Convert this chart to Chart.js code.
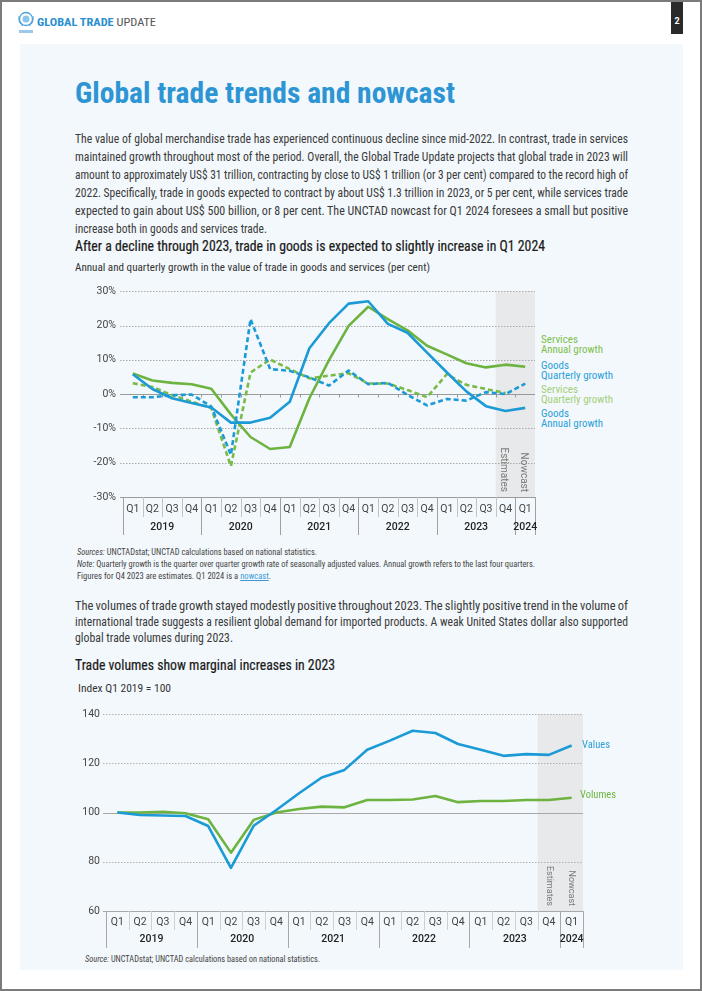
<!DOCTYPE html>
<html><head><meta charset="utf-8">
<script src="https://cdn.jsdelivr.net/npm/chart.js@4.4.1/dist/chart.umd.min.js"></script>
<style>
html,body{margin:0;padding:0;}
body{width:702px;height:991px;position:relative;background:#fff;overflow:hidden;font-family:"Liberation Sans Narrow","Roboto Condensed","Arial Narrow",Roboto,sans-serif;color:#333;}
.frame{position:absolute;left:0;top:0;width:702px;height:991px;box-sizing:border-box;border:2px solid #7b7b7b;z-index:10;pointer-events:none}
.panel{position:absolute;left:20px;top:44px;width:663px;height:926px;background:#f3f8fc;}
.t{position:absolute;white-space:nowrap;transform-origin:0 50%;line-height:1;}
.p{font-size:12.5px;color:#3a3a3a;}
.ct{font-size:14.5px;color:#1a1a1a;-webkit-text-stroke:0.2px #1a1a1a;}
.st{font-size:11px;color:#333;}
.src{font-size:9px;color:#444;}
.lg{font-size:11.5px;}
canvas{position:absolute;}
</style></head>
<body>
<div class="panel"></div>
<svg style="position:absolute;left:17px;top:11px" width="18" height="26" viewBox="0 0 18 26">
 <circle cx="9" cy="8" r="6.5" fill="none" stroke="#4aa3dc" stroke-width="1.3"/>
 <circle cx="9" cy="8" r="3.5" fill="#8cc4ea"/>
 <path d="M2 5 Q1 12 6 15 M16 5 Q17 12 12 15" stroke="#4aa3dc" stroke-width="1" fill="none"/>
 <rect x="2" y="19" width="14" height="3" fill="#9cc9ea"/>
</svg>
<div class="t" style="font-size:10px" data-x="37" data-y="23" data-w="119"><b style="color:#2a8fd0">GLOBAL TRADE</b> <span style="color:#555">UPDATE</span></div>
<div style="position:absolute;left:671px;top:0;width:12px;height:34px;background:#2a2a2a"></div>
<div class="t" style="font-size:9px;color:#fff;font-weight:bold;font-family:Roboto" data-x="674.5" data-y="22">2</div>

<div class="t" style="font-size:30px;font-weight:bold;color:#2d95d4" data-x="75" data-y="94" data-w="380">Global trade trends and nowcast</div>

<div class="t p" data-j="1" data-x="75" data-y="140" data-w="553">The value of global merchandise trade has experienced continuous decline since mid-2022. In contrast, trade in services</div>
<div class="t p" data-j="1" data-x="75" data-y="158" data-w="553">maintained growth throughout most of the period. Overall, the Global Trade Update projects that global trade in 2023 will</div>
<div class="t p" data-j="1" data-x="75" data-y="176" data-w="553">amount to approximately US$ 31 trillion, contracting by close to US$ 1 trillion (or 3 per cent) compared to the record high of</div>
<div class="t p" data-j="1" data-x="75" data-y="194" data-w="553">2022. Specifically, trade in goods expected to contract by about US$ 1.3 trillion in 2023, or 5 per cent, while services trade</div>
<div class="t p" data-j="1" data-x="75" data-y="212" data-w="553">expected to gain about US$ 500 billion, or 8 per cent. The UNCTAD nowcast for Q1 2024 foresees a small but positive</div>
<div class="t p" data-x="75" data-y="230" data-w="192">increase both in goods and services trade.</div>

<div class="t ct" data-x="75" data-y="248" data-w="470">After a decline through 2023, trade in goods is expected to slightly increase in Q1 2024</div>
<div class="t st" data-x="75" data-y="268" data-w="355">Annual and quarterly growth in the value of trade in goods and services (per cent)</div>

<canvas id="c1" width="480" height="262" style="left:60px;top:278px;width:480px;height:262px"></canvas>

<div class="t lg" style="color:#7cbf4b" data-x="541" data-y="340" data-w="37">Services</div>
<div class="t lg" style="color:#7cbf4b" data-x="541" data-y="350" data-w="62">Annual growth</div>
<div class="t lg" style="color:#2a9fd8" data-x="541" data-y="366" data-w="28">Goods</div>
<div class="t lg" style="color:#2a9fd8" data-x="541" data-y="376" data-w="72">Quarterly growth</div>
<div class="t lg" style="color:#a3cf78" data-x="541" data-y="390" data-w="37">Services</div>
<div class="t lg" style="color:#a3cf78" data-x="541" data-y="400" data-w="72">Quarterly growth</div>
<div class="t lg" style="color:#2a9fd8" data-x="541" data-y="414" data-w="28">Goods</div>
<div class="t lg" style="color:#2a9fd8" data-x="541" data-y="424" data-w="62">Annual growth</div>

<div class="t src" data-x="77" data-y="553" data-w="240"><i>Sources:</i> UNCTADstat; UNCTAD calculations based on national statistics.</div>
<div class="t src" data-x="77" data-y="565" data-w="458"><i>Note:</i> Quarterly growth is the quarter over quarter growth rate of seasonally adjusted values. Annual growth refers to the last four quarters.</div>
<div class="t src" data-x="77" data-y="577" data-w="194">Figures for Q4 2023 are estimates. Q1 2024 is a <u style="color:#3a9ad9">nowcast</u>.</div>

<div class="t p" data-j="1" data-x="75" data-y="607" data-w="553">The volumes of trade growth stayed modestly positive throughout 2023. The slightly positive trend in the volume of</div>
<div class="t p" data-j="1" data-x="75" data-y="623" data-w="553">international trade suggests a resilient global demand for imported products. A weak United States dollar also supported</div>
<div class="t p" data-x="75" data-y="639" data-w="158">global trade volumes during 2023.</div>

<div class="t ct" data-x="75" data-y="667" data-w="260">Trade volumes show marginal increases in 2023</div>
<div class="t st" data-x="78" data-y="689" data-w="93">Index Q1 2019 = 100</div>

<canvas id="c2" width="530" height="252" style="left:60px;top:700px;width:530px;height:252px"></canvas>

<div class="t lg" style="color:#2a9fd8" data-x="582" data-y="745" data-w="28">Values</div>
<div class="t lg" style="color:#6fb53f" data-x="580" data-y="795" data-w="36">Volumes</div>

<div class="t src" style="font-size:8.5px" data-x="85" data-y="960" data-w="235"><i>Source:</i> UNCTADstat; UNCTAD calculations based on national statistics.</div>

<div class="frame"></div>

<script>
// ---------- DATA ----------
const quarters = ['Q1','Q2','Q3','Q4','Q1','Q2','Q3','Q4','Q1','Q2','Q3','Q4','Q1','Q2','Q3','Q4','Q1','Q2','Q3','Q4','Q1'];
const yearLabels = ['2019','2020','2021','2022','2023','2024'];
const yearSpans = [4,4,4,4,4,1];

// Chart 1: growth (per cent)
const goodsAnnual       = [5.8,1.5,-1.2,-2.6,-3.9,-8.3,-8.3,-6.9,-2.2,13.4,20.7,26.4,27.1,20.5,17.9,12.1,6.4,0.8,-3.5,-4.9,-4.0];
const goodsQuarterly    = [-0.9,-0.9,-0.3,-0.1,-3.6,-17.7,21.9,7.3,6.8,4.9,2.5,6.9,2.9,3.3,-0.2,-3.3,-1.4,-1.9,0.6,0.0,3.1];
const servicesAnnual    = [6.0,4.0,3.3,2.9,1.6,-5.9,-12.5,-16.0,-15.4,-1.2,9.9,19.9,25.5,21.9,18.6,14.1,11.6,9.0,7.8,8.6,8.0];
const servicesQuarterly = [3.2,2.1,-0.3,-2.2,-4.1,-21.0,6.3,10.1,7.3,4.6,5.4,6.1,3.1,3.1,1.2,-0.9,5.8,2.7,1.5,0.3,null];
const growthTicks = [-30,-20,-10,0,10,20,30];

// Chart 2: index Q1 2019 = 100
const tradeValues  = [100,99.0,98.8,98.6,94.5,77.5,94.6,101.0,107.8,114.2,117.3,125.5,129.2,133.2,132.3,127.8,125.5,123.0,123.7,123.4,127.2];
const tradeVolumes = [100,100,100.3,99.7,97.3,83.7,97.0,100.0,101.4,102.4,102.1,105.1,105.1,105.3,106.7,104.2,104.7,104.7,105.1,105.1,106.0];
const indexTicks = [60,80,100,120,140];

const noteLabels = ['Estimates','Nowcast'];
const noteIndex = [19,20];

// ---------- TEXT FITTING ----------
document.querySelectorAll('.t').forEach(el=>{
  const fs = parseFloat(getComputedStyle(el).fontSize);
  el.style.left = el.dataset.x + 'px';
  el.style.top = (+el.dataset.y - 0.55*fs) + 'px';
  const w = +el.dataset.w;
  if(!w) return;
  const nat = el.getBoundingClientRect().width;
  if(el.dataset.j){
    const spaces = (el.textContent.match(/ /g)||[]).length;
    const ws = (w-nat)/spaces;
    if(ws > -0.8){ el.style.wordSpacing = ws+'px'; }
    else { el.style.transform = 'scaleX('+(w/nat)+')'; }
  } else {
    el.style.transform = 'scaleX('+(w/nat)+')';
  }
});

// ---------- CHART DECORATION PLUGIN ----------
function deco(cfg){
  return {
    id:'deco',
    beforeDatasetsDraw(chart){
      const {ctx, chartArea:a, scales:{x,y}} = chart;
      const n = chart.data.labels.length;
      const half = (x.getPixelForValue(1)-x.getPixelForValue(0))/2;
      const edge = i => (i<n ? x.getPixelForValue(i)-half : x.getPixelForValue(n-1)+half);
      ctx.save();
      const sx = edge(noteIndex[0]);
      ctx.fillStyle = cfg.shade;
      ctx.fillRect(sx, a.top, a.right-sx, a.bottom-a.top);
      y.ticks.forEach(t=>{
        const py = Math.round(y.getPixelForValue(t.value))+0.5;
        const solid = (t.value===cfg.baseline || t.value===y.min);
        ctx.beginPath();
        ctx.setLineDash(solid?[]:[1.5,1.5]);
        ctx.strokeStyle = solid? cfg.solid : cfg.grid;
        ctx.lineWidth = 1;
        ctx.moveTo(a.left-cfg.tickLen, py); ctx.lineTo(a.right, py); ctx.stroke();
      });
      ctx.setLineDash([]);
      if(cfg.baseTicks){
        const by = Math.round(y.getPixelForValue(cfg.baseline))+0.5;
        ctx.strokeStyle = cfg.solid; ctx.beginPath();
        for(let i=1;i<n;i++){ const px=Math.round(edge(i))+0.5; ctx.moveTo(px,by); ctx.lineTo(px,by+3); }
        ctx.stroke();
      }
      const yearEdges = new Set(); let c=0; yearEdges.add(0);
      yearSpans.forEach(s=>{ c+=s; yearEdges.add(c); });
      for(let i=0;i<=n;i++){
        const px = Math.round(edge(i))+0.5;
        const isYear = yearEdges.has(i);
        ctx.beginPath();
        ctx.strokeStyle = isYear? cfg.yearSep : cfg.qSep;
        ctx.moveTo(px, a.bottom); ctx.lineTo(px, a.bottom + (isYear? cfg.yearLen : cfg.qLen));
        ctx.stroke();
      }
      ctx.fillStyle = '#222';
      ctx.font = cfg.yearFont;
      ctx.textAlign = 'center'; ctx.textBaseline = 'middle';
      c = 0;
      yearLabels.forEach((lab,k)=>{
        const x0 = edge(c), x1 = edge(c+yearSpans[k]);
        ctx.fillText(lab, (x0+x1)/2, a.bottom + cfg.yearY);
        c += yearSpans[k];
      });
      ctx.fillStyle = '#7a7a7a';
      ctx.font = cfg.noteFont;
      noteLabels.forEach((lab,k)=>{
        const px = x.getPixelForValue(noteIndex[k]) + cfg.noteDx;
        ctx.save();
        ctx.translate(px, a.bottom - 5);
        ctx.rotate(Math.PI/2);
        ctx.textAlign = 'right'; ctx.textBaseline = 'middle';
        ctx.fillText(lab, 0, 0);
        ctx.restore();
      });
      ctx.restore();
    }
  };
}

// Pin the plot area to target page coordinates (top/bottom/left/right)
function pin(chart, canvasLeft, canvasTop, box, lay){
  for(let k=0;k<3;k++){
    const a = chart.chartArea;
    chart.options.layout.padding.top += (box.top - canvasTop) - a.top;
    lay.xh += a.bottom - (box.bottom - canvasTop);
    lay.yw += (box.left - canvasLeft) - a.left;
    chart.options.layout.padding.right += a.right - (box.right - canvasLeft);
    chart.update('none');
  }
}

const BLUE = '#1b9ad6', GREEN = '#6cb33f', GREEN2 = '#79bb47';
const tickFont = {family:'Roboto', size:10.5};

// ---------- CHART 1 ----------
const lay1 = {xh:43, yw:63};
const chart1 = new Chart(document.getElementById('c1'), {
  type:'line',
  data:{ labels:quarters, datasets:[
    {data:goodsAnnual, borderColor:BLUE, borderWidth:2.6},
    {data:goodsQuarterly, borderColor:BLUE, borderWidth:2.6, borderDash:[5,3]},
    {data:servicesAnnual, borderColor:GREEN, borderWidth:2.6},
    {data:servicesQuarterly, borderColor:GREEN2, borderWidth:2.6, borderDash:[5,3]}
  ]},
  options:{
    responsive:false, animation:false, devicePixelRatio:1,
    layout:{padding:{left:0,right:5,top:8,bottom:0}},
    plugins:{legend:{display:false}, tooltip:{enabled:false}},
    elements:{point:{radius:0}, line:{tension:0, borderJoinStyle:'round', fill:false}},
    scales:{
      x:{ offset:true, grid:{display:false, drawTicks:false}, border:{display:false},
          ticks:{font:tickFont, color:'#444', padding:6, maxRotation:0, autoSkip:false},
          afterFit(s){ s.height = lay1.xh; } },
      y:{ min:-30, max:30, grid:{display:false, drawTicks:false}, border:{display:false},
          afterBuildTicks(s){ s.ticks = growthTicks.map(v=>({value:v})); },
          ticks:{font:tickFont, color:'#444', padding:7, callback:v=>v+'%'},
          afterFit(s){ s.width = lay1.yw; } }
    }
  },
  plugins:[deco({shade:'#e8e9ea', grid:'#a9a9a9', solid:'#9a9a9a', baseline:0, tickLen:3, baseTicks:true,
    qSep:'#c4c4c4', yearSep:'#a0a0a0', qLen:20, yearLen:38, yearY:30,
    yearFont:'500 10.5px Roboto', noteFont:'10px Roboto', noteDx:-2})]
});
pin(chart1, 60, 278, {top:286, bottom:497, left:123, right:535}, lay1);

// ---------- CHART 2 ----------
const lay2 = {xh:41, yw:46};
const chart2 = new Chart(document.getElementById('c2'), {
  type:'line',
  data:{ labels:quarters, datasets:[
    {data:tradeValues, borderColor:BLUE, borderWidth:2.6},
    {data:tradeVolumes, borderColor:GREEN, borderWidth:2.6}
  ]},
  options:{
    responsive:false, animation:false, devicePixelRatio:1,
    layout:{padding:{left:0,right:7,top:14,bottom:0}},
    plugins:{legend:{display:false}, tooltip:{enabled:false}},
    elements:{point:{radius:0}, line:{tension:0, borderJoinStyle:'round', fill:false}},
    scales:{
      x:{ offset:true, grid:{display:false, drawTicks:false}, border:{display:false},
          ticks:{font:tickFont, color:'#444', padding:5, maxRotation:0, autoSkip:false},
          afterFit(s){ s.height = lay2.xh; } },
      y:{ min:60, max:140, grid:{display:false, drawTicks:false}, border:{display:false},
          afterBuildTicks(s){ s.ticks = indexTicks.map(v=>({value:v})); },
          ticks:{font:tickFont, color:'#444', padding:6},
          afterFit(s){ s.width = lay2.yw; } }
    }
  },
  plugins:[deco({shade:'#e8e9ea', grid:'#b0b0b0', solid:'#a8a8a8', baseline:100, tickLen:3, baseTicks:false,
    qSep:'#cfcfcf', yearSep:'#a8a8a8', qLen:19, yearLen:37, yearY:28,
    yearFont:'500 10.5px Roboto', noteFont:'9px Roboto', noteDx:0})]
});
pin(chart2, 60, 700, {top:714, bottom:911, left:106, right:583}, lay2);
</script>
</body></html>
